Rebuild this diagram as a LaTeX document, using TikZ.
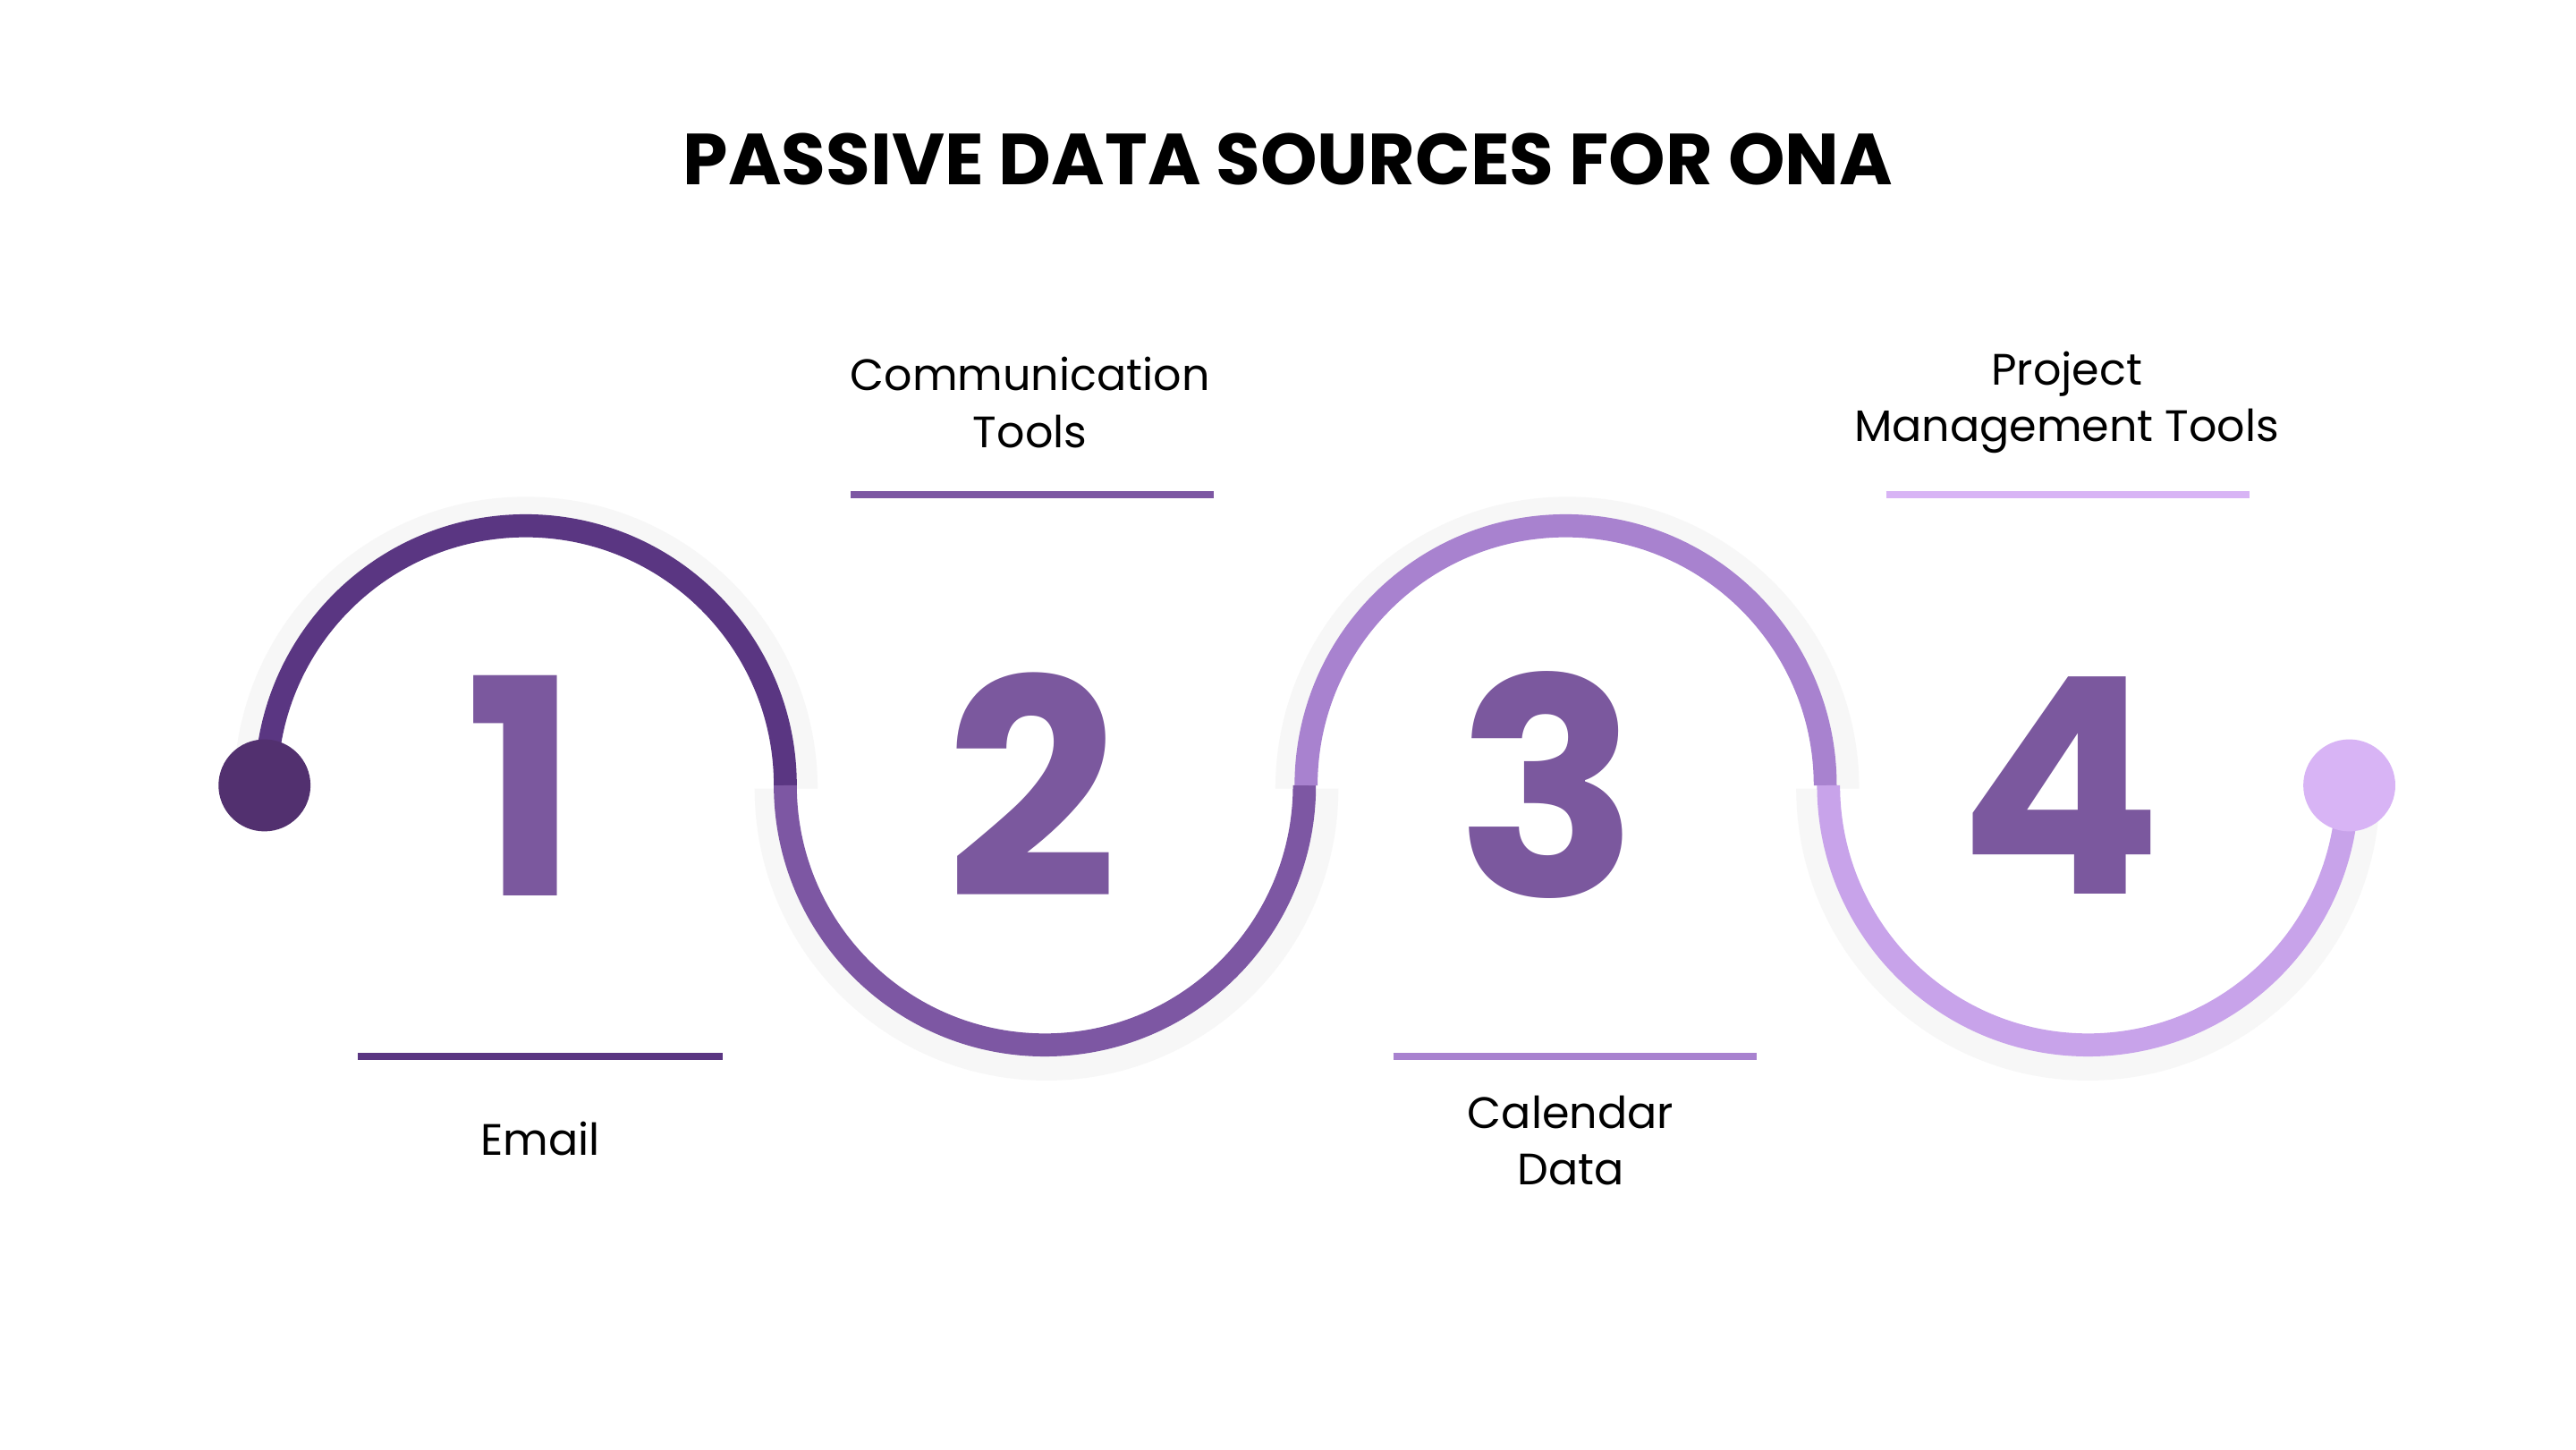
\documentclass[tikz,border=0pt]{standalone}
\usepackage{fontspec}
\setmainfont{Poppins}
\begin{document}
\begin{tikzpicture}[x=0.018367cm,y=-0.018367cm,
  arc/.style={line width=14*0.018367cm},
  bar/.style={line width=2.2pt},
  num/.style={font=\fontsize{96}{96}\selectfont\bfseries,text=num},
  lab/.style={font=\fontsize{14}{18}\selectfont,align=center}]
\definecolor{c1}{HTML}{5A3682}
\definecolor{c2}{HTML}{7D57A3}
\definecolor{c3}{HTML}{A882CF}
\definecolor{c4}{HTML}{C8A3EA}
\definecolor{d1}{HTML}{52306F}
\definecolor{d4}{HTML}{D8B4F5}
\definecolor{num}{HTML}{7B589E}
\useasboundingbox[fill=white] (0,0) rectangle (1568,882);
\node[font=\fontsize{23}{28}\selectfont\bfseries] (title) at (784,97) {PASSIVE DATA SOURCES FOR ONA};
% faint outer shadows
\foreach \cx/\ea in {320/360,637/0,954/360,1271/0}
  \draw[gray!6,line width=8pt] (\cx-170,480) arc[start angle=180,end angle=\ea,radius=170];
\draw[arc,c1] (162,478) arc[start angle=180,end angle=360,radius=158];
\draw[arc,c2] (478,478) arc[start angle=180,end angle=0,radius=158];
\draw[arc,c3] (795,478) arc[start angle=180,end angle=360,radius=158];
\draw[arc,c4] (1113,478) arc[start angle=180,end angle=5,radius=158];
\fill[d1] (161,478) circle (28) coordinate (s);
\fill[d4] (1430,478) circle (28) coordinate (e);
\node[num] (n1) at (318,478) {1};
\node[num] (n2) at (628,478) {2};
\node[num] (n3) at (942,478) {3};
\node[num] (n4) at (1254,478) {4};
\draw[bar,c1] (218,643) -- (440,643);
\draw[bar,c2] (518,301) -- (739,301);
\draw[bar,c3] (848,643) -- (1069,643);
\draw[bar,d4] (1148,301) -- (1369,301);
\node[lab] (l1) at (329,693) {Email};
\node[lab] (l2) at (627,245) {Communication\\Tools};
\node[lab] (l3) at (956,694) {Calendar\\Data};
\node[lab] (l4) at (1258,245) {Project\\Management Tools};
\end{tikzpicture}
\end{document}
